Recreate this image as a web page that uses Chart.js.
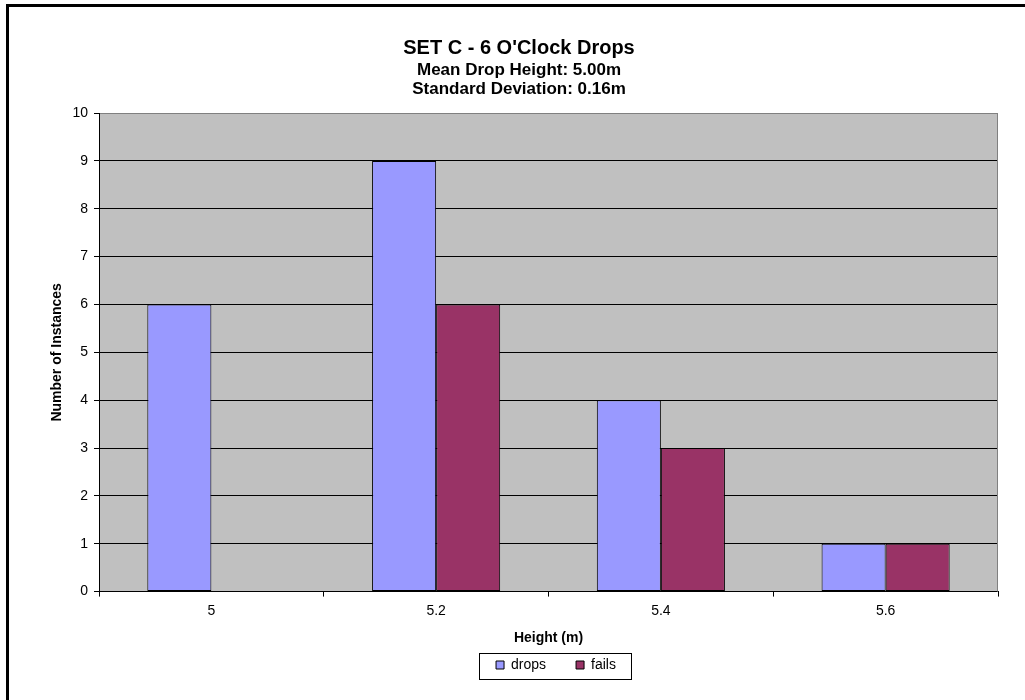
<!DOCTYPE html>
<html>
<head>
<meta charset="utf-8">
<title>SET C - 6 O'Clock Drops</title>
<script src="https://cdn.jsdelivr.net/npm/chart.js@4.4.1/dist/chart.umd.min.js"></script>
<style>
  html, body { margin: 0; padding: 0; background: #ffffff; }
  #wrap { width: 1025px; height: 700px; position: relative; }
  canvas { display: block; }
</style>
</head>
<body>
<div id="wrap"><canvas id="chart" width="1025" height="700"></canvas></div>
<script>
// Drop heights (m) and the counts recorded in each bin
const categories = ['5', '5.2', '5.4', '5.6'];
const dropsCounts = [6, 9, 4, 1];
const failsCounts = [0, 6, 3, 1];
const yMin = 0;
const yMax = 10;
const yStep = 1;

const titleText = "SET C - 6 O'Clock Drops";
const subtitleLines = ['Mean Drop Height: 5.00m', 'Standard Deviation: 0.16m'];
const xTitle = 'Height (m)';
const yTitle = 'Number of Instances';

const FONT = "'Liberation Sans', Arial, Helvetica, sans-serif";
const LEGEND_SHIFT = 37; // legend sits centred under the plot, not the canvas

// Grey plot background, grey frame on the open side, outer frame and legend box
const framePlugin = {
  id: 'frame',
  beforeDraw(chart) {
    const { ctx, chartArea: a } = chart;
    const lg = chart.legend;
    if (lg && !lg.$shifted) {
      lg.left += LEGEND_SHIFT;
      lg.right += LEGEND_SHIFT;
      (lg.legendHitBoxes || []).forEach(h => { h.left += LEGEND_SHIFT; });
      lg.$shifted = true;
    }
    ctx.save();
    ctx.fillStyle = '#c0c0c0';
    ctx.fillRect(a.left, a.top, a.right - a.left, a.bottom - a.top);
    ctx.restore();
  },
  afterDatasetsDraw(chart) {
    const { ctx, chartArea: a } = chart;
    ctx.save();
    ctx.strokeStyle = '#808080';
    ctx.lineWidth = 1;
    ctx.beginPath();
    ctx.moveTo(Math.round(a.right) - 0.5, a.top);
    ctx.lineTo(Math.round(a.right) - 0.5, a.bottom);
    ctx.stroke();
    ctx.restore();
  },
  afterDraw(chart) {
    const { ctx } = chart;
    ctx.save();
    ctx.fillStyle = '#000000';
    ctx.fillRect(6, 4, chart.width - 6, 3);
    ctx.fillRect(6, 4, 3, chart.height - 4);
    const boxes = chart.legend && chart.legend.legendHitBoxes;
    if (boxes && boxes.length) {
      let l = Infinity, r = -Infinity, t = Infinity, b = -Infinity;
      boxes.forEach(h => {
        l = Math.min(l, h.left); r = Math.max(r, h.left + h.width);
        t = Math.min(t, h.top); b = Math.max(b, h.top + h.height);
      });
      ctx.strokeStyle = '#000000';
      ctx.lineWidth = 1;
      ctx.strokeRect(Math.round(l - 17) + 0.5, Math.round(t - 5) + 0.5,
                     Math.round(r - l + 32), Math.round(b - t + 12));
    }
    ctx.restore();
  }
};

new Chart(document.getElementById('chart'), {
  type: 'bar',
  data: {
    labels: categories,
    datasets: [
      {
        label: 'drops',
        data: dropsCounts,
        backgroundColor: '#9999ff',
        borderColor: '#000000',
        borderWidth: 1,
        borderSkipped: false,
        categoryPercentage: 0.57,
        barPercentage: 1.0
      },
      {
        label: 'fails',
        data: failsCounts,
        backgroundColor: '#993366',
        borderColor: '#000000',
        borderWidth: 1,
        borderSkipped: false,
        categoryPercentage: 0.57,
        barPercentage: 1.0
      }
    ]
  },
  options: {
    responsive: false,
    animation: false,
    devicePixelRatio: 1,
    layout: { padding: { left: 40, right: 27, top: 10, bottom: 18 } },
    plugins: {
      title: {
        display: true,
        text: titleText,
        color: '#000000',
        font: { family: FONT, size: 20, weight: 'bold', lineHeight: 1.2 },
        padding: { top: 26, bottom: 0 }
      },
      subtitle: {
        display: true,
        text: subtitleLines,
        color: '#000000',
        font: { family: FONT, size: 17, weight: 'bold', lineHeight: 1.12 },
        padding: { top: 1, bottom: 14 }
      },
      legend: {
        display: true,
        position: 'bottom',
        labels: {
          color: '#000000',
          font: { family: FONT, size: 14 },
          boxWidth: 8,
          boxHeight: 8,
          padding: 30,
          generateLabels(chart) {
            return chart.data.datasets.map((ds, i) => ({
              text: ds.label,
              fillStyle: ds.backgroundColor,
              strokeStyle: '#000000',
              lineWidth: 1,
              hidden: false,
              datasetIndex: i,
              fontColor: '#000000'
            }));
          }
        }
      },
      tooltip: { enabled: false }
    },
    scales: {
      x: {
        offset: true,
        afterFit(scale) { scale.height = 36.4; },
        grid: {
          offset: true,
          drawOnChartArea: false,
          drawTicks: true,
          tickLength: 5,
          tickColor: '#000000',
          color: '#000000'
        },
        border: { display: true, color: '#000000', width: 1 },
        ticks: {
          color: '#000000',
          font: { family: FONT, size: 14 },
          padding: 6,
          maxRotation: 0
        },
        title: {
          display: true,
          text: xTitle,
          color: '#000000',
          font: { family: FONT, size: 14, weight: 'bold' },
          padding: { top: 6, bottom: -19 }
        }
      },
      y: {
        min: yMin,
        max: yMax,
        afterFit(scale) { scale.width = 59; },
        grid: {
          drawTicks: true,
          tickLength: 5,
          tickColor: '#000000',
          color: ctx => (ctx.tick && ctx.tick.value === yMax ? '#808080' : '#000000'),
          lineWidth: 1
        },
        border: { display: true, color: '#000000', width: 1 },
        ticks: {
          stepSize: yStep,
          color: '#000000',
          font: { family: FONT, size: 14 },
          padding: 6
        },
        title: {
          display: true,
          text: yTitle,
          color: '#000000',
          font: { family: FONT, size: 14, weight: 'bold', lineHeight: 1.2 },
          padding: { top: 9, bottom: 0 }
        }
      }
    }
  },
  plugins: [framePlugin]
});
</script>
</body>
</html>
